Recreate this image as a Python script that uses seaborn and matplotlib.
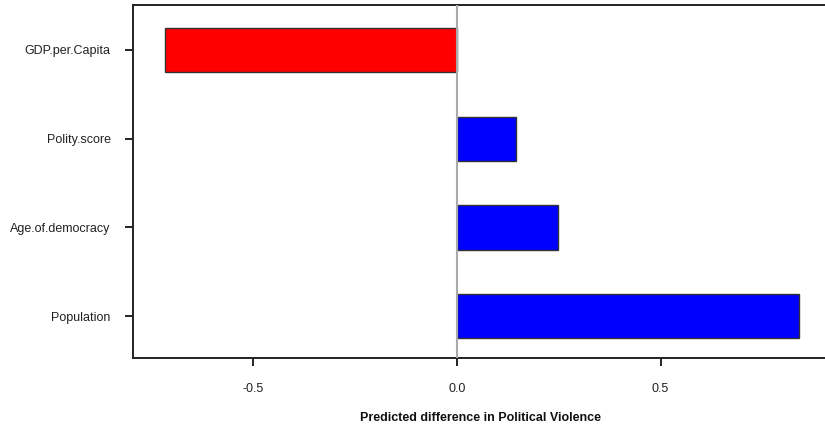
import matplotlib
matplotlib.use("Agg")
import matplotlib.pyplot as plt
import seaborn as sns
import pandas as pd

variables = ["GDP.per.Capita", "Polity.score", "Age.of.democracy", "Population"]
differences = [-0.717, 0.145, 0.248, 0.840]
bar_colors = ["#ff0000" if v < 0 else "#0000ff" for v in differences]
x_ticks = [-0.5, 0.0, 0.5]
x_tick_labels = ["-0.5", "0.0", "0.5"]

sns.set_style("white")
plt.rcParams["font.family"] = ["Liberation Sans", "DejaVu Sans"]

df = pd.DataFrame({"variable": variables, "difference": differences})

fig = plt.figure(figsize=(8.25, 4.25), dpi=100)
ax = fig.add_axes([133 / 825, 1 - 358 / 425, (827.5 - 133) / 825, (358 - 5) / 425])

sns.barplot(data=df, x="difference", y="variable", hue="variable",
            palette=bar_colors, order=variables, hue_order=variables,
            width=0.5, saturation=1, edgecolor="#333333", linewidth=1.0,
            legend=False, ax=ax, zorder=2)

ax.axvline(0, color="#aaaaaa", linewidth=1.5, zorder=3)

ax.set_xlim(-0.796, 0.91)
ax.set_ylim(3.47, -0.506)
ax.set_xticks(x_ticks)
ax.set_xticklabels(x_tick_labels)

for side in ["left", "bottom", "top"]:
    ax.spines[side].set_visible(True)
    ax.spines[side].set_color("#222222")
    ax.spines[side].set_linewidth(1.4)
ax.spines["right"].set_visible(False)

ax.tick_params(axis="both", direction="out", length=6, width=1.4, color="#222222",
               labelsize=9, labelcolor="#222222")
ax.tick_params(axis="x", pad=12, bottom=True)
ax.tick_params(axis="y", pad=10, left=True)

ax.set_ylabel("")
ax.set_xlabel("Predicted difference in Political Violence", fontsize=9,
              fontweight="bold", labelpad=12, color="#111111")

fig.savefig("out.png", dpi=100)
